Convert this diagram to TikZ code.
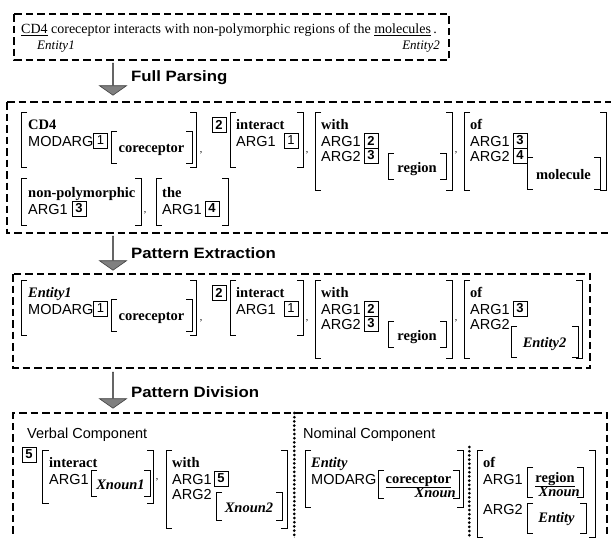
\documentclass[tikz,border=0pt]{standalone}
\usepackage{fontspec}
\setmainfont{Liberation Serif}
\newfontfamily\labfont{Liberation Sans}
\newfontfamily\hdfont[FakeStretch=1.12]{Liberation Sans}
\usetikzlibrary{shapes.arrows}
\tikzset{
  dbox/.style={draw, line width=2.2pt, dash pattern=on 7.5pt off 4pt},
  dotline/.style={draw, line width=3pt, line cap=round, dash pattern=on 0pt off 4.2pt},
  brk/.style={draw, line width=0.9pt},
  lab/.style={font=\labfont\fontsize{14.5}{14.5}\selectfont, inner sep=0pt, anchor=base west},
  hw/.style={font=\bfseries\fontsize{14.5}{14.5}\selectfont, inner sep=0pt, anchor=base west},
  hwi/.style={font=\bfseries\itshape\fontsize{14.5}{14.5}\selectfont, inner sep=0pt, anchor=base west},
  numbox/.style={draw, line width=0.9pt, minimum width=14pt, minimum height=15pt, inner sep=0pt, font=\labfont\fontsize{13}{13}\selectfont},
  commatext/.style={font=\fontsize{10}{10}\selectfont, inner sep=0pt},
  hdtext/.style={font=\hdfont\bfseries\fontsize{15}{15}\selectfont, inner sep=0pt, anchor=west},
  garrow/.style={single arrow, shape border rotate=270, draw=black!75, line width=0.6pt, fill=black!50,
     minimum width=27pt, single arrow head extend=7pt, single arrow tip angle=110, inner sep=0pt},
}
\newcommand\avmbr[4]{%
  \draw[brk] ({#1+6},#2) -- (#1,#2) -- (#1,#4) -- ({#1+6},#4);
  \draw[brk] ({#3-6},#2) -- (#3,#2) -- (#3,#4) -- ({#3-6},#4);}
\begin{document}
\begin{tikzpicture}[x=1pt,y=-1pt]
\useasboundingbox (0,0) rectangle (611,538);
\fill[white] (0,0) rectangle (611,538);
% ---------- top sentence box
\draw[dbox] (14,14) rectangle (449,60);
\node[anchor=base west, inner sep=0pt, font=\fontsize{14}{14}\selectfont] (sent) at (21,34)
  {\underline{CD4} coreceptor interacts with non-polymorphic regions of the \underline{molecules}\,.};
\node[anchor=base west, inner sep=0pt, font=\itshape\fontsize{13}{13}\selectfont] (e1) at (37,49) {Entity1};
\node[anchor=base east, inner sep=0pt, font=\itshape\fontsize{13}{13}\selectfont] (e2) at (440,49) {Entity2};
% ---------- arrow 1
\node[garrow, minimum height=32pt] (ar1) at (113,79) {};
\node[hdtext] (t1) at (131,78) {Full Parsing};
% ---------- full parsing box
\draw[dbox] (7,102) -- (616,102) (7,102) -- (7,233) -- (616,233);
% row 1
\avmbr{21}{112}{196}{167}
\node[hw] (a1h) at (28,129) {CD4};
\node[lab] (a1m) at (28,146) {MODARG};
\node[numbox] (a1b) at (100.5,140.5) {1};
\avmbr{111}{131}{192}{163}
\node[hw, anchor=base] (a1c) at (151.5,152) {coreceptor};
\node[commatext] (c1) at (201,153) {,};
\node[numbox] (a2n) at (219,125) {\textbf{2}};
\avmbr{230}{112}{303}{167}
\node[hw] (a2h) at (236,129) {interact};
\node[lab] (a2a) at (236,146) {ARG1};
\node[numbox] (a2b) at (291,140.5) {1};
\node[commatext] (c2) at (307,153) {,};
\avmbr{315}{112}{452}{190}
\node[hw] (a3h) at (321,129) {with};
\node[lab] (a3a) at (321,146) {ARG1};
\node[lab] (a3c) at (321,161) {ARG2};
\node[numbox] (a3b) at (371,140.5) {\textbf{2}};
\node[numbox] (a3d) at (371,155.5) {\textbf{3}};
\avmbr{388}{153}{446}{179}
\node[hw, anchor=base] (a3r) at (417,172) {region};
\node[commatext] (c3) at (456,153) {,};
\avmbr{464}{112}{606}{190}
\node[hw] (a4h) at (470,129) {of};
\node[lab] (a4a) at (470,146) {ARG1};
\node[lab] (a4c) at (470,161) {ARG2};
\node[numbox] (a4b) at (520,140.5) {\textbf{3}};
\node[numbox] (a4d) at (520,155.5) {\textbf{4}};
\avmbr{527}{157}{600}{189}
\node[hw, anchor=base] (a4r) at (563.5,179) {molecule};
% row 2
\avmbr{21}{178}{141}{225}
\node[hw] (b1h) at (28,197) {non-polymorphic};
\node[lab] (b1a) at (28,214) {ARG1};
\node[numbox] (b1b) at (79,208.5) {\textbf{3}};
\node[commatext] (c4) at (145,213) {,};
\avmbr{156}{178}{228}{225}
\node[hw] (b2h) at (162,197) {the};
\node[lab] (b2a) at (162,214) {ARG1};
\node[numbox] (b2b) at (212,208.5) {\textbf{4}};
% ---------- arrow 2
\node[garrow, minimum height=34pt] (ar2) at (113,253) {};
\node[hdtext] (t2) at (131,253) {Pattern Extraction};
% ---------- pattern extraction box
\draw[dbox] (13,274) rectangle (590,368);
\avmbr{21}{280}{196}{335}
\node[hwi] (p1h) at (28,297) {Entity1};
\node[lab] (p1m) at (28,314) {MODARG};
\node[numbox] (p1b) at (100.5,308.5) {1};
\avmbr{111}{299}{192}{331}
\node[hw, anchor=base] (p1c) at (151.5,320) {coreceptor};
\node[commatext] (c5) at (201,321) {,};
\node[numbox] (p2n) at (219,293) {\textbf{2}};
\avmbr{230}{280}{303}{335}
\node[hw] (p2h) at (236,297) {interact};
\node[lab] (p2a) at (236,314) {ARG1};
\node[numbox] (p2b) at (291,308.5) {1};
\node[commatext] (c6) at (307,321) {,};
\avmbr{315}{280}{452}{358}
\node[hw] (p3h) at (321,297) {with};
\node[lab] (p3a) at (321,314) {ARG1};
\node[lab] (p3c) at (321,329) {ARG2};
\node[numbox] (p3b) at (371,308.5) {\textbf{2}};
\node[numbox] (p3d) at (371,323.5) {\textbf{3}};
\avmbr{388}{321}{446}{347}
\node[hw, anchor=base] (p3r) at (417,340) {region};
\node[commatext] (c7) at (456,321) {,};
\avmbr{464}{280}{582}{358}
\node[hw] (p4h) at (470,297) {of};
\node[lab] (p4a) at (470,314) {ARG1};
\node[lab] (p4c) at (470,329) {ARG2};
\node[numbox] (p4b) at (520,308.5) {\textbf{3}};
\avmbr{511}{326}{578}{357}
\node[hwi, anchor=base] (p4r) at (544.5,347) {Entity2};
% ---------- arrow 3
\node[garrow, minimum height=36pt] (ar3) at (113,390) {};
\node[hdtext] (t3) at (131,392) {Pattern Division};
% ---------- pattern division box
\draw[dbox] (13,545) -- (13,413) -- (607,413) -- (607,545);
\draw[dotline] (294.3,413) -- (294.3,545);
\draw[dotline] (469.3,447) -- (469.3,545);
\node[lab] (vc) at (27,438) {Verbal Component};
\node[lab] (nc) at (303,438) {Nominal Component};
% verbal
\node[numbox] (v5) at (29,454.5) {\textbf{5}};
\avmbr{42.7}{450}{153}{503}
\node[hw] (v1h) at (49,467) {interact};
\node[lab] (v1a) at (49,484) {ARG1};
\avmbr{91}{470}{150}{496}
\node[hwi, anchor=base] (v1x) at (120.5,489) {Xnoun1};
\node[commatext] (c8) at (157,480) {,};
\avmbr{166}{450}{287}{528}
\node[hw] (v2h) at (172,467) {with};
\node[lab] (v2a) at (172,484) {ARG1};
\node[numbox] (v2b) at (221,478.5) {\textbf{5}};
\node[lab] (v2c) at (172,499) {ARG2};
\avmbr{216}{492}{282}{520}
\node[hwi, anchor=base] (v2x) at (249,512) {Xnoun2};
% nominal
\avmbr{305}{450}{463}{507}
\node[hwi] (n1h) at (311,467) {Entity};
\node[lab] (n1m) at (311,484) {MODARG};
\avmbr{378}{470}{459}{498}
\node[hw, anchor=base] (n1c) at (418.5,483) {\underline{coreceptor}};
\node[hwi, anchor=base east] (n1x) at (456,497) {Xnoun};
\avmbr{477}{450}{595}{537}
\node[hw] (n2h) at (483,467) {of};
\node[lab] (n2a) at (483,484) {ARG1};
\avmbr{527}{467}{583}{497}
\node[hw, anchor=base] (n2r) at (555,482) {\underline{region}};
\node[hwi, anchor=base east] (n2x) at (580,496) {Xnoun};
\node[lab] (n2c) at (483,514) {ARG2};
\avmbr{527}{503}{586}{533}
\node[hwi, anchor=base] (n2e) at (556.5,522) {Entity};
\end{tikzpicture}
\end{document}
